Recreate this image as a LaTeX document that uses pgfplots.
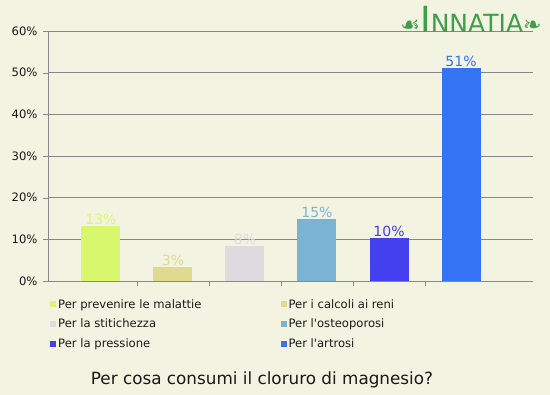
\documentclass[border=0pt]{standalone}
\usepackage{pgfplots}
\pgfplotsset{compat=1.18}
\usepackage{fontspec}
\setmainfont{DejaVu Sans}
\definecolor{bg}{HTML}{F3F3E1}
\definecolor{cA}{HTML}{D9F76C}
\definecolor{cB}{HTML}{E0DA90}
\definecolor{cC}{HTML}{DEDBE0}
\definecolor{cD}{HTML}{7BB3D3}
\definecolor{cE}{HTML}{4440F0}
\definecolor{cF}{HTML}{3474F4}
\definecolor{gridc}{HTML}{888888}
\definecolor{logo}{HTML}{3E9E4C}
\begin{document}
\begin{tikzpicture}[x=1pt,y=1pt]
\fill[bg] (0,0) rectangle (550,395);
\begin{axis}[
  scale only axis, width=485pt, height=250pt,
  at={(48pt,114pt)}, anchor=south west,
  xmin=-0.736, xmax=6.0, ymin=0, ymax=60,
  axis lines*=left, axis line style={gridc},
  ytick={0,10,...,60},
  yticklabel={\pgfmathprintnumber{\tick}\%},
  /pgf/number format/assume math mode=true,
  ymajorgrids, grid style={gridc},
  xtick={0.5,1.5,2.5,3.5,4.5}, xticklabels={},
  tick align=outside, major tick length=5pt, tick style={gridc},
  ticklabel style={font=\fontsize{11.6}{13}\selectfont, text=black!90},
  yticklabel style={xshift=-2pt},
  ybar, bar width=39pt, bar shift=0pt,
  nodes near coords={\pgfmathprintnumber[fixed,precision=0]{\pgfplotspointmeta}\%},
  every node near coord/.append style={font=\fontsize{14}{16}\selectfont, inner sep=1.2pt},
  legend columns=2,
  legend cell align=left,
  legend image code/.code={\fill (0pt,-3pt) rectangle (6pt,3pt);},
  legend style={draw=none, fill=none, at={(rel axis cs:0,0)}, anchor=north west,
    xshift=-1pt, yshift=-14pt,
    font=\fontsize{11.6}{13}\selectfont, text=black!90, row sep=5.5pt,
    /tikz/every even column/.append style={column sep=77pt}},
]
\addplot[fill=cA, draw=none, every node near coord/.append style={text=cA}] coordinates {(0,13.2)};
\addlegendentry{Per prevenire le malattie}
\addplot[fill=cB, draw=none, every node near coord/.append style={text=cB}] coordinates {(1,3.3)};
\addlegendentry{Per i calcoli ai reni}
\addplot[fill=cC, draw=none, every node near coord/.append style={text=cC}] coordinates {(2,8.3)};
\addlegendentry{Per la stitichezza}
\addplot[fill=cD, draw=none, every node near coord/.append style={text=cD}] coordinates {(3,14.8)};
\addlegendentry{Per l\textquotesingle osteoporosi}
\addplot[fill=cE, draw=none, every node near coord/.append style={text=cE}] coordinates {(4,10.2)};
\addlegendentry{Per la pressione}
\addplot[fill=cF, draw=none, every node near coord/.append style={text=cF}] coordinates {(5,51.0)};
\addlegendentry{Per l\textquotesingle artrosi}
\end{axis}
\node[font=\fontsize{16.8}{18}\selectfont, text=black!90] at (262,15) {Per cosa consumi il cloruro di magnesio?};
\node[text=logo, anchor=base, inner sep=0pt] at (471,362)
  {{\fontsize{22}{22}\selectfont ☙}{\fontsize{36}{36}\selectfont I}{\fontsize{25}{25}\selectfont NNATIA}{\fontsize{22}{22}\selectfont ❧}};
\end{tikzpicture}
\end{document}
